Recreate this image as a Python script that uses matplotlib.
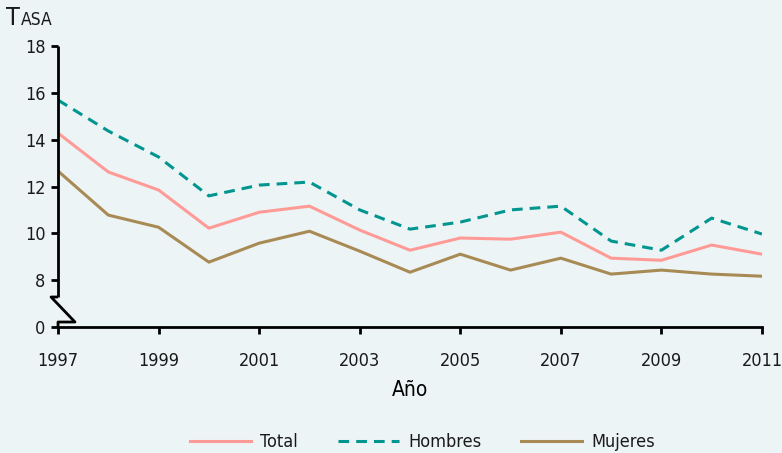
import numpy as np
import matplotlib.pyplot as plt

years = list(range(1997, 2012))
total = [14.28, 12.62, 11.85, 10.22, 10.9, 11.16, 10.14, 9.28, 9.8, 9.75, 10.05, 8.94, 8.85, 9.5, 9.11]
hombres = [15.69, 14.37, 13.26, 11.6, 12.06, 12.19, 11.0, 10.18, 10.48, 11.0, 11.16, 9.67, 9.28, 10.65, 9.97]
mujeres = [12.66, 10.78, 10.26, 8.77, 9.58, 10.09, 9.24, 8.34, 9.11, 8.43, 8.94, 8.26, 8.43, 8.26, 8.17]
ytick_vals = [0, 8, 10, 12, 14, 16, 18]
xtick_vals = [1997, 1999, 2001, 2003, 2005, 2007, 2009, 2011]

bg = '#edf4f6'
plt.rcParams['font.family'] = ['DejaVu Sans']
plt.rcParams['font.stretch'] = 'condensed'
plt.rcParams['text.color'] = '#1a1a1a'


# broken axis: 0..8 squeezed into 6..8
def fwd(y):
    y = np.asarray(y, dtype=float)
    return np.where(y >= 8, y, 6 + y / 4.0)


def inv(y):
    y = np.asarray(y, dtype=float)
    return np.where(y >= 8, y, (y - 6) * 4.0)


fig = plt.figure(figsize=(7.82, 4.53), dpi=100, facecolor=bg)
ax = fig.add_axes([0.0742, 0.2781, 0.9002, 0.6204])
ax.set_facecolor(bg)
ax.set_yscale('function', functions=(fwd, inv))

ax.plot(years, total, color='#ff9b96', lw=2.2, label='Total')
ax.plot(years, hombres, color='#00968f', lw=2.2, ls=(0, (3.5, 2.3)), label='Hombres')
ax.plot(years, mujeres, color='#a88a55', lw=2.2, label='Mujeres')

ax.set_xlim(1997, 2011)
ax.set_ylim(0, 18)
ax.set_yticks(ytick_vals)
ax.set_yticklabels([str(v) for v in ytick_vals])
ax.set_xticks(xtick_vals)
ax.set_xticklabels([str(v) for v in xtick_vals])
ax.yaxis.set_minor_locator(plt.NullLocator())
ax.xaxis.set_minor_locator(plt.NullLocator())
ax.tick_params(axis='both', labelsize=13, width=2, length=5, color='black',
               labelcolor='#1a1a1a', pad=4)
ax.tick_params(axis='x', pad=13)

for s in ['top', 'right', 'left']:
    ax.spines[s].set_visible(False)
ax.spines['bottom'].set_linewidth(2)

# left spine with break mark
k = dict(transform=ax.transAxes, clip_on=False, color='black', lw=2, solid_capstyle='butt')
ax.plot([0, 0], [1, 0.1068], **k)
ax.plot([0, -0.0099, 0.0241, 0, 0], [0.1068, 0.1068, 0.0178, 0.0178, 0], **k)

ax.set_xlabel('Año', fontsize=15, labelpad=7)

fig.text(0.008, 0.945, 'T', fontsize=18)
fig.text(0.027, 0.945, 'ASA', fontsize=12.5)

fig.legend(loc='lower center', bbox_to_anchor=(0.54, -0.032), ncol=3, frameon=False,
           fontsize=13, handlelength=3.4, columnspacing=2.2, handletextpad=0.5)

fig.savefig('out.png', dpi=100, facecolor=bg)
